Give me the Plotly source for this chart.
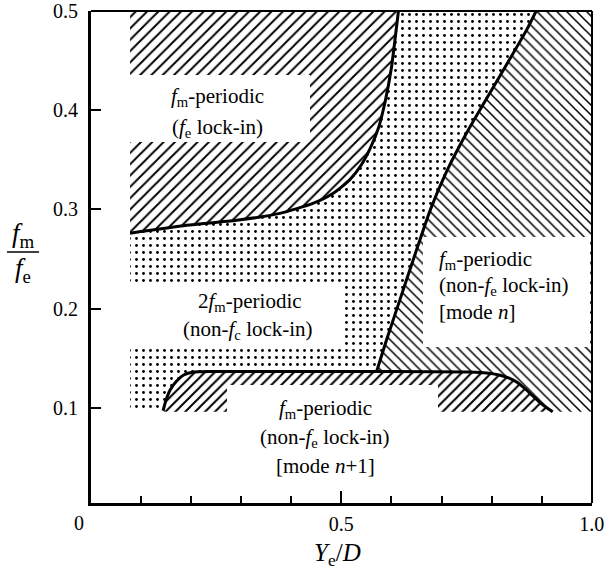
import plotly.graph_objects as go

# ---------------- data ----------------
x_tickvals = [0.5, 1.0]
x_ticktext = ["0.5", "1.0"]
y_tickvals = [0.1, 0.2, 0.3, 0.4, 0.5]
y_ticktext = ["0.1", "0.2", "0.3", "0.4", "0.5"]

# boundary between f_e lock-in region and 2f_m-periodic region
upper_x = [0.078, 0.191, 0.291, 0.377, 0.443, 0.483, 0.517, 0.540, 0.558, 0.574, 0.588, 0.600, 0.608, 0.614]
upper_y = [0.276, 0.284, 0.289, 0.296, 0.306, 0.316, 0.330, 0.345, 0.362, 0.382, 0.410, 0.443, 0.475, 0.500]

# boundary between 2f_m-periodic region and mode-n region
divider_x = [0.570, 0.590, 0.617, 0.650, 0.678, 0.710, 0.750, 0.816, 0.870, 0.889]
divider_y = [0.136, 0.168, 0.209, 0.259, 0.300, 0.338, 0.377, 0.434, 0.481, 0.500]

# upper boundary of mode n+1 region
lower_x = [0.144, 0.150, 0.158, 0.171, 0.185, 0.205, 0.250, 0.570, 0.756, 0.790, 0.815, 0.835, 0.850, 0.865, 0.880, 0.895, 0.910, 0.922]
lower_y = [0.097, 0.108, 0.118, 0.127, 0.133, 0.136, 0.1365, 0.1365, 0.136, 0.135, 0.133, 0.130, 0.126, 0.120, 0.113, 0.106, 0.100, 0.096]

x_left, x_right = 0.078, 1.0
y_floor, y_top = 0.096, 0.5

# region labels
lbl_tl = ["<i>f</i><sub>m</sub>-periodic", "(<i>f</i><sub>e</sub> lock-in)"]
lbl_mid = ["2<i>f</i><sub>m</sub>-periodic", "(non-<i>f</i><sub>c</sub> lock-in)"]
lbl_right = ["<i>f</i><sub>m</sub>-periodic", "(non-<i>f</i><sub>e</sub> lock-in)", "[mode <i>n</i>]"]
lbl_bot = ["<i>f</i><sub>m</sub>-periodic", "(non-<i>f</i><sub>e</sub> lock-in)", "[mode <i>n</i>+1]"]

# ---------------- geometry helpers ----------------
W, H = 604, 570
L, R, T, B = 91, 592, 11, 503


def pxx(p):
    return (p - L) / (R - L)


def pxy(p):
    return (B - p) / (B - T)


FONT = "'Liberation Serif', 'Times New Roman', 'DejaVu Serif', serif"

split = divider_x[0]
low_left = [(x, y) for x, y in zip(lower_x, lower_y) if x <= split]
low_right = [(x, y) for x, y in zip(lower_x, lower_y) if x >= split]

# polygons
tl_x = upper_x + [x_left]
tl_y = upper_y + [y_top]

dots_x = [x_left] + [p[0] for p in low_left] + divider_x + upper_x[::-1]
dots_y = [y_floor] + [p[1] for p in low_left] + divider_y + upper_y[::-1]

bot_x = lower_x + [lower_x[0]]
bot_y = lower_y + [y_floor]

rt_x = divider_x + [x_right, x_right] + [p[0] for p in low_right][::-1]
rt_y = divider_y + [y_top, y_floor] + [p[1] for p in low_right][::-1]

fig = go.Figure()


def region(xs, ys, shape, size, solidity):
    fig.add_trace(go.Scatter(
        x=xs, y=ys, mode="lines", fill="toself", line=dict(width=0, color="black"),
        fillcolor="white",
        fillpattern=dict(shape=shape, size=size, solidity=solidity,
                         fgcolor="black", bgcolor="white", fillmode="replace"),
        hoverinfo="skip", showlegend=False))


region(dots_x, dots_y, ".", 7, 0.13)
region(tl_x, tl_y, "/", 8, 0.24)
region(bot_x, bot_y, "/", 7, 0.28)
region(rt_x, rt_y, "\\", 7, 0.22)

for xs, ys in [(upper_x, upper_y), (divider_x, divider_y), (lower_x, lower_y)]:
    fig.add_trace(go.Scatter(x=xs, y=ys, mode="lines",
                             line=dict(color="black", width=3, shape="spline", smoothing=0.6),
                             hoverinfo="skip", showlegend=False))

shapes = []
# white label boxes masking the patterns
for (x0, x1, y0, y1) in [(128, 310, 75, 142), (128, 345, 282, 348),
                         (423, 590, 237, 347), (227, 438, 385, 416)]:
    shapes.append(dict(type="rect", xref="paper", yref="paper",
                       x0=pxx(x0), x1=pxx(x1), y0=pxy(y1), y1=pxy(y0),
                       fillcolor="white", line=dict(width=0), layer="above"))
# top and right frame
shapes.append(dict(type="line", xref="paper", yref="paper", x0=0, x1=1, y0=1, y1=1,
                   line=dict(color="black", width=2), layer="above"))
shapes.append(dict(type="line", xref="paper", yref="paper", x0=1, x1=1, y0=0, y1=1,
                   line=dict(color="black", width=2), layer="above"))
# fraction bar of y title
shapes.append(dict(type="line", xref="paper", yref="paper", x0=pxx(7), x1=pxx(39),
                   y0=pxy(252), y1=pxy(252), line=dict(color="black", width=1.5)))

ann = []


def text(t, x, y, size=21, xanchor="center"):
    ann.append(dict(text=t, x=pxx(x), y=pxy(y), xref="paper", yref="paper",
                    xanchor=xanchor, yanchor="middle", showarrow=False, borderpad=0,
                    font=dict(family=FONT, size=size, color="black")))


text(lbl_tl[0], 217, 97)
text(lbl_tl[1], 217, 128)
text(lbl_mid[0], 250, 302)
text(lbl_mid[1], 248, 330)
for i, t in enumerate(lbl_right):
    text(t, 438, [260, 286, 312][i], xanchor="left")
for i, t in enumerate(lbl_bot):
    text(t, 325, [409, 438, 466][i])

text("0", 79, 523, size=20)
text("<i>Y</i><sub>e</sub>/<i>D</i>", 337, 554, size=25)
text("<i>f</i><sub>m</sub>", 23, 235, size=27)
text("<i>f</i><sub>e</sub>", 23, 270, size=27)

fig.update_layout(
    width=W, height=H,
    margin=dict(l=L, r=W - R, t=T, b=H - B, autoexpand=False),
    paper_bgcolor="white", plot_bgcolor="white",
    shapes=shapes, annotations=ann,
    font=dict(family=FONT, color="black"),
    xaxis=dict(range=[0, 1.0005], tickvals=x_tickvals, ticktext=x_ticktext,
               ticks="inside", ticklen=12, tickwidth=2, tickcolor="black",
               showline=True, linewidth=3, linecolor="black", showgrid=False,
               zeroline=False, ticklabelstandoff=1, ticklabeloverflow="allow",
               automargin=False,
               minor=dict(tickvals=[0.1, 0.2, 0.3, 0.4, 0.6, 0.7, 0.8, 0.9],
                          ticks="inside", ticklen=7, tickwidth=2, tickcolor="black",
                          showgrid=False),
               tickfont=dict(family=FONT, size=20, color="black")),
    yaxis=dict(range=[0.004, 0.5], tickvals=y_tickvals, ticktext=y_ticktext,
               ticks="inside", ticklen=10, tickwidth=2, tickcolor="black",
               showline=True, linewidth=3, linecolor="black", showgrid=False,
               zeroline=False, ticklabelstandoff=6, ticklabeloverflow="allow",
               automargin=False,
               tickfont=dict(family=FONT, size=20, color="black")),
)

fig.write_html("out.html")
